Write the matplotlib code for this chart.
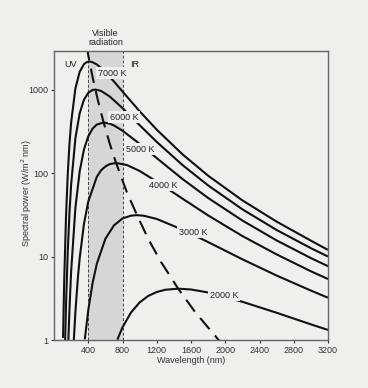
import matplotlib
matplotlib.use("Agg")
import matplotlib.pyplot as plt
from matplotlib.ticker import FixedLocator, FixedFormatter, NullLocator

plt.rcParams['font.family'] = ['Liberation Sans', 'DejaVu Sans']

# Wavelength (nm) and spectral power (W/m^2 nm)
wl_7000 = [106, 110, 120, 140, 160, 180, 200, 250, 300, 350, 380, 414, 450, 500, 550, 600, 700, 800, 1000, 1200, 1500, 1800, 2200, 2600, 3000, 3200]
sp_7000 = [1.06, 1.79, 5.49, 29.3, 94.2, 218, 403, 1032, 1634, 2015, 2127, 2166, 2131, 1999, 1817, 1620, 1250, 949, 550, 331, 168, 93.0, 47.1, 26.2, 15.5, 12.0]

wl_6000 = [130, 140, 160, 180, 200, 250, 300, 350, 400, 450, 483, 550, 650, 800, 1000, 1200, 1500, 1800, 2200, 2600, 3000, 3200]
sp_6000 = [0.98, 2.54, 11.1, 32.5, 72.7, 262, 521, 756, 914, 990, 1000, 964, 828, 601, 375, 236, 125, 71.1, 36.8, 20.8, 12.6, 10.0]

wl_5000 = [165, 180, 200, 250, 300, 350, 400, 450, 500, 580, 650, 700, 800, 1000, 1200, 1500, 1800, 2200, 2600, 3000, 3200]
sp_5000 = [0.82, 2.26, 6.61, 38.5, 105, 192, 275, 340, 381, 403, 391, 372, 322, 224, 151, 85.0, 50.3, 27.0, 15.6, 9.58, 7.66]

wl_4000 = [230, 250, 280, 300, 350, 400, 500, 550, 600, 650, 725, 850, 1000, 1200, 1500, 1800, 2200, 2600, 3000, 3200]
sp_4000 = [0.94, 2.17, 5.74, 9.57, 24.6, 45.5, 90.2, 108, 120, 128, 132, 125, 106, 79.1, 49.4, 31.1, 17.6, 10.6, 6.66, 5.38]

wl_3000 = [360, 400, 450, 500, 600, 700, 800, 900, 970, 1050, 1200, 1500, 1800, 2200, 2600, 3000, 3200]
sp_3000 = [1.02, 2.27, 4.78, 8.19, 16.3, 23.6, 28.6, 30.9, 31.3, 30.8, 28.2, 21.0, 14.9, 9.27, 5.92, 3.91, 3.21]

wl_2000 = [740, 800, 900, 1000, 1100, 1200, 1300, 1450, 1600, 1800, 2200, 2600, 3000, 3200]
sp_2000 = [1.01, 1.42, 2.14, 2.82, 3.37, 3.76, 4.00, 4.12, 4.03, 3.71, 2.87, 2.12, 1.54, 1.32]

# Locus of the peaks (dashed)
wl_peak = [380, 414, 450, 483, 530, 580, 650, 725, 850, 970, 1100, 1250, 1450, 1650, 1930]
sp_peak = [3318, 2166, 1424, 1000, 629, 403, 227, 132, 59.3, 31.3, 16.3, 8.61, 4.12, 2.15, 0.98]

curves = [(wl_7000, sp_7000), (wl_6000, sp_6000), (wl_5000, sp_5000),
          (wl_4000, sp_4000), (wl_3000, sp_3000), (wl_2000, sp_2000)]

curve_labels = ["7000 K", "6000 K", "5000 K", "4000 K", "3000 K", "2000 K"]
label_pos = [(678, 1577), (818, 469), (1005, 194), (1273, 71.8), (1624, 19.6), (1986, 3.46)]

x_ticks = [400, 800, 1200, 1600, 2000, 2400, 2800, 3200]
y_ticks = [1, 10, 100, 1000]
y_tick_labels = ["1", "10", "100", "1000"]

visible_band = (400, 800)

bg = '#efefec'
fig = plt.figure(figsize=(3.68, 3.88), dpi=100, facecolor=bg)
ax = fig.add_axes([54/368, 48/388, 274/368, 289/388])
ax.set_facecolor(bg)

ax.axvspan(visible_band[0], visible_band[1], color='#d6d6d6', lw=0, zorder=0)
for xv in visible_band:
    ax.axvline(xv, color='#444444', lw=0.7, ls=(0, (3, 2)), zorder=1)

for wl, sp in curves:
    ax.plot(wl, sp, color='#111111', lw=1.5, zorder=2, solid_capstyle='butt', solid_joinstyle='round')

ax.plot(wl_peak, sp_peak, color='#111111', lw=1.5, ls=(0, (7, 4)), zorder=2)

for txt, (lx, ly) in zip(curve_labels, label_pos):
    ax.text(lx, ly, txt, fontsize=6.5, ha='center', va='center', color='#222222', zorder=3,
            bbox=dict(facecolor=bg, edgecolor='none', pad=1.0))

ax.text(0.06, 0.955, "UV", transform=ax.transAxes, fontsize=6.5, ha='center', va='center', color='#222222')
ax.text(938, 0.955, "IR", transform=ax.get_xaxis_transform(), fontsize=6.5, ha='center', va='center', color='#222222')
ax.text(600, 1.015, "Visible\nradiation", transform=ax.get_xaxis_transform(), fontsize=6.5,
        ha='center', va='bottom', color='#222222', linespacing=1.0)

ax.set_yscale('log')
ax.set_xlim(0, 3200)
ax.set_ylim(1, 2900)
ax.xaxis.set_major_locator(FixedLocator(x_ticks))
ax.yaxis.set_major_locator(FixedLocator(y_ticks))
ax.yaxis.set_major_formatter(FixedFormatter(y_tick_labels))
ax.yaxis.set_minor_locator(NullLocator())
ax.tick_params(axis='both', labelsize=6.5, length=2.5, width=0.8, pad=1.5, colors='#333333', labelcolor='#333333')

for s in ax.spines.values():
    s.set_color('#666666')
    s.set_linewidth(1.0)

ax.set_xlabel("Wavelength (nm)", fontsize=6.5, color='#333333', labelpad=1)
ax.set_ylabel("Spectral power (W/m$^2$ nm)", fontsize=6.5, color='#333333')
ax.yaxis.set_label_coords(-0.072, 0.509)

fig.savefig("out.png", dpi=100, facecolor=bg)
